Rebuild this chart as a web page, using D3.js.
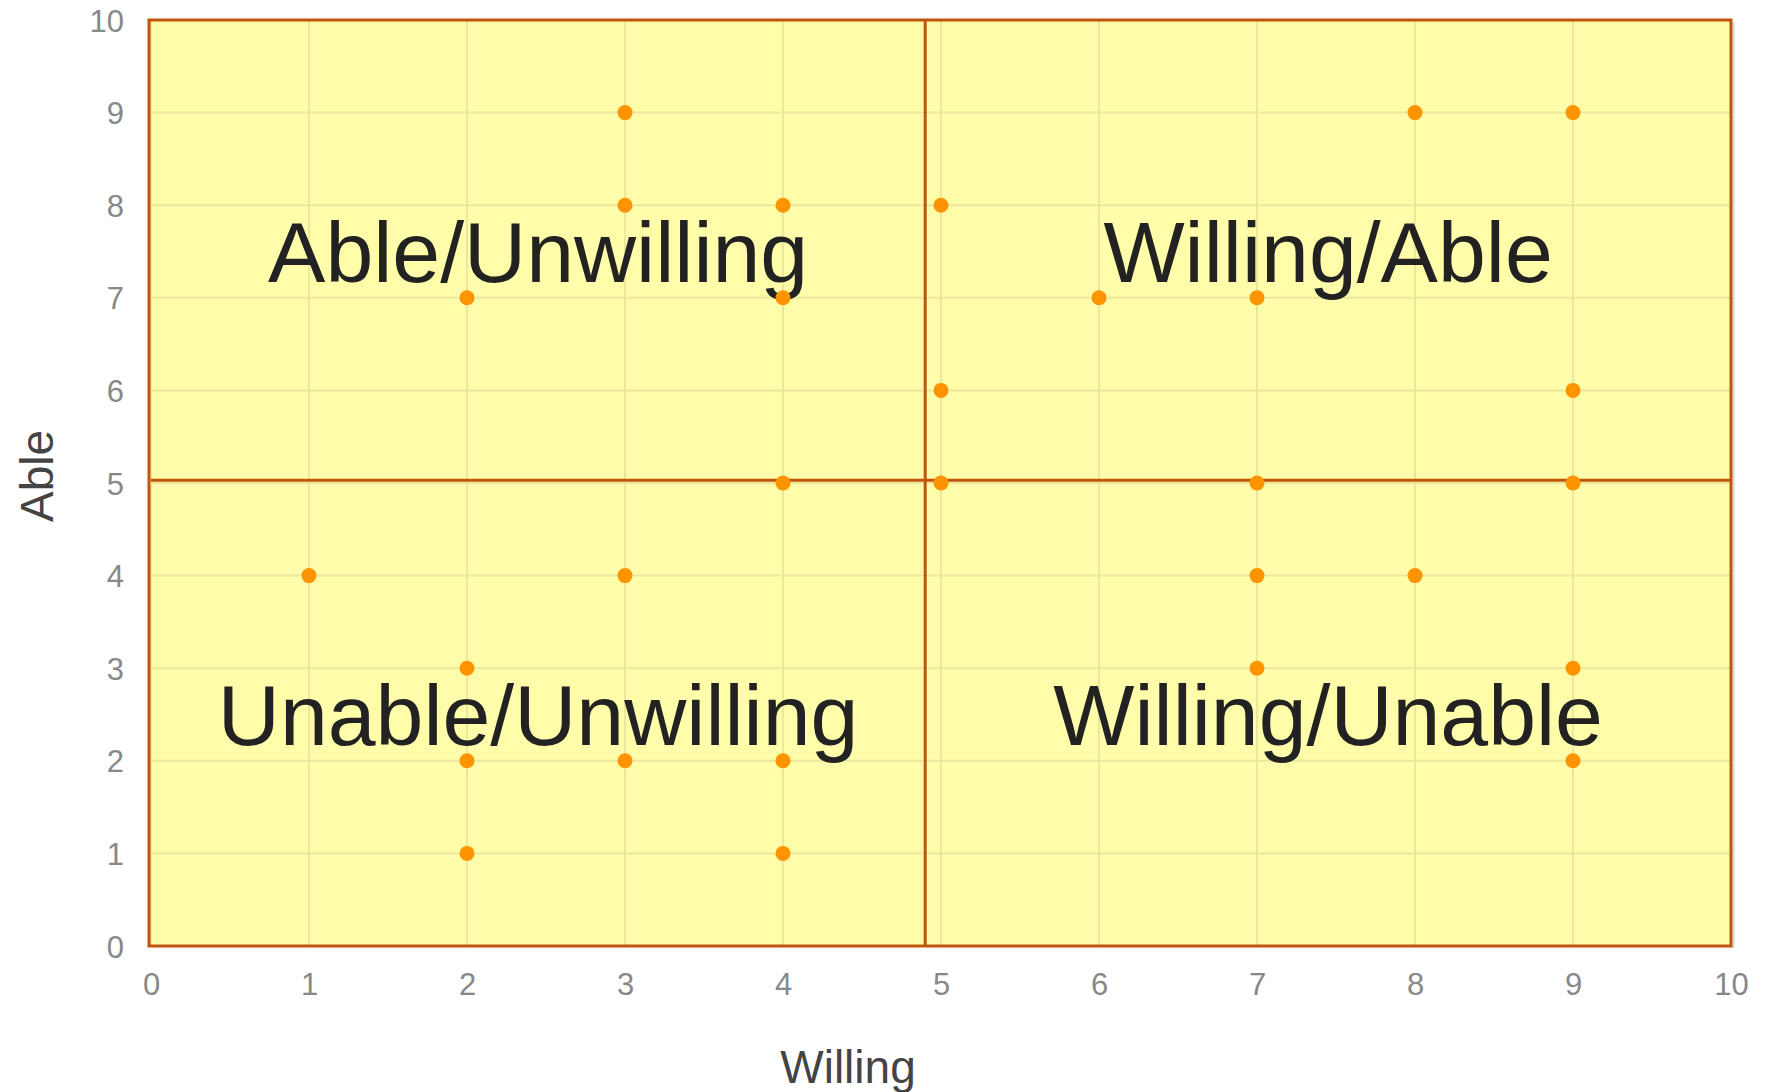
<!DOCTYPE html>
<html>
<head>
<meta charset="utf-8">
<script src="https://cdn.jsdelivr.net/npm/d3@7"></script>
<style>
  body { margin: 0; background: #fff; }
  svg { display: block; font-family: Arial, "Liberation Sans", sans-serif; }
</style>
</head>
<body>
<div id="chart"></div>
<script>
// data
const willing = [3, 3, 4, 2, 4, 4, 1, 3, 2, 2, 3, 4, 2, 4,
                 5, 6, 7, 8, 9, 5, 9, 5, 7, 9, 7, 8, 7, 9, 9];
const able    = [9, 8, 8, 7, 7, 5, 4, 4, 3, 2, 2, 2, 1, 1,
                 8, 7, 7, 9, 9, 6, 6, 5, 5, 5, 4, 4, 3, 3, 2];
const xTicks = [0, 1, 2, 3, 4, 5, 6, 7, 8, 9, 10];
const yTicks = [0, 1, 2, 3, 4, 5, 6, 7, 8, 9, 10];
const splitX = 4.9;   // vertical quadrant divider
const splitY = 5.03;  // horizontal quadrant divider
const quadrantNames = ["Able/Unwilling", "Willing/Able", "Unable/Unwilling", "Willing/Unable"];

const width = 1775, height = 1092;

const svg = d3.select("#chart").append("svg")
    .attr("width", width)
    .attr("height", height);

let xScale = d3.scaleLinear().domain([0, 10]).range([151, 1731]);
let yScale = d3.scaleLinear().domain([0, 10]).range([946, 20]);

// plot background
svg.append("rect")
    .attr("x", xScale(0) - 2)
    .attr("y", yScale(10))
    .attr("width", xScale(10) - xScale(0) + 2)
    .attr("height", yScale(0) - yScale(10))
    .attr("fill", "#fffcaa");

// grid
svg.append("g").selectAll("line")
    .data(xTicks)
    .enter().append("line")
    .attr("x1", d => xScale(d)).attr("x2", d => xScale(d))
    .attr("y1", yScale(10)).attr("y2", yScale(0))
    .attr("stroke", "#ece79c").attr("stroke-width", 2);

svg.append("g").selectAll("line")
    .data(yTicks)
    .enter().append("line")
    .attr("x1", xScale(0)).attr("x2", xScale(10))
    .attr("y1", d => yScale(d)).attr("y2", d => yScale(d))
    .attr("stroke", "#ece79c").attr("stroke-width", 2);

// quadrant labels
const quadCenters = [
    [(xScale(0) + xScale(splitX)) / 2, (yScale(10) + yScale(splitY)) / 2],
    [(xScale(splitX) + xScale(10)) / 2, (yScale(10) + yScale(splitY)) / 2],
    [(xScale(0) + xScale(splitX)) / 2, (yScale(splitY) + yScale(0)) / 2],
    [(xScale(splitX) + xScale(10)) / 2, (yScale(splitY) + yScale(0)) / 2]
];
svg.append("g").selectAll("text")
    .data(quadrantNames)
    .enter().append("text")
    .attr("x", (d, i) => quadCenters[i][0])
    .attr("y", (d, i) => quadCenters[i][1] + 32)
    .attr("text-anchor", "middle")
    .style("font-size", "86px")
    .attr("fill", "#222")
    .text(d => d);

// quadrant dividers
svg.append("line")
    .attr("x1", xScale(splitX)).attr("x2", xScale(splitX))
    .attr("y1", yScale(10)).attr("y2", yScale(0))
    .attr("stroke", "#c1550b").attr("stroke-width", 3);
svg.append("line")
    .attr("x1", xScale(0)).attr("x2", xScale(10))
    .attr("y1", yScale(splitY)).attr("y2", yScale(splitY))
    .attr("stroke", "#c1550b").attr("stroke-width", 3);

// points
svg.append("g").selectAll("circle")
    .data(willing)
    .enter().append("circle")
    .attr("cx", d => xScale(d))
    .attr("cy", (d, i) => yScale(able[i]))
    .attr("r", 7.5)
    .attr("fill", "#ff9400");

// border + faint shadow on the right
svg.append("line")
    .attr("x1", xScale(10) + 2.5).attr("x2", xScale(10) + 2.5)
    .attr("y1", yScale(10) + 2).attr("y2", yScale(0) + 2)
    .attr("stroke", "#d8d8d8").attr("stroke-width", 2);
svg.append("rect")
    .attr("x", xScale(0) - 2)
    .attr("y", yScale(10))
    .attr("width", xScale(10) - xScale(0) + 2)
    .attr("height", yScale(0) - yScale(10))
    .attr("fill", "none")
    .attr("stroke", "#c1550b")
    .attr("stroke-width", 3);

// axes
let xAxis = d3.axisBottom(xScale).tickValues(xTicks).tickSize(0).tickPadding(0);
let yAxis = d3.axisLeft(yScale).tickValues(yTicks).tickSize(0).tickPadding(0);

let gx = svg.append("g")
    .attr("transform", "translate(0," + 995 + ")")
    .call(xAxis);
gx.select(".domain").remove();
gx.selectAll("text")
    .attr("dy", null).attr("y", 0)
    .style("font-size", "31px")
    .style("font-family", "Arial, 'Liberation Sans', sans-serif")
    .attr("fill", "#888");

let gy = svg.append("g")
    .attr("transform", "translate(" + 124 + ",0)")
    .call(yAxis);
gy.select(".domain").remove();
gy.selectAll("text")
    .attr("x", 0).attr("dy", "0.36em")
    .style("font-size", "31px")
    .style("font-family", "Arial, 'Liberation Sans', sans-serif")
    .attr("fill", "#888");

// axis titles
svg.append("text")
    .attr("x", 848).attr("y", 1083)
    .attr("text-anchor", "middle")
    .style("font-size", "46px")
    .attr("fill", "#444")
    .text("Willing");

svg.append("text")
    .attr("transform", "translate(53,476) rotate(-90)")
    .attr("text-anchor", "middle")
    .style("font-size", "46px")
    .attr("fill", "#444")
    .text("Able");
</script>
</body>
</html>
